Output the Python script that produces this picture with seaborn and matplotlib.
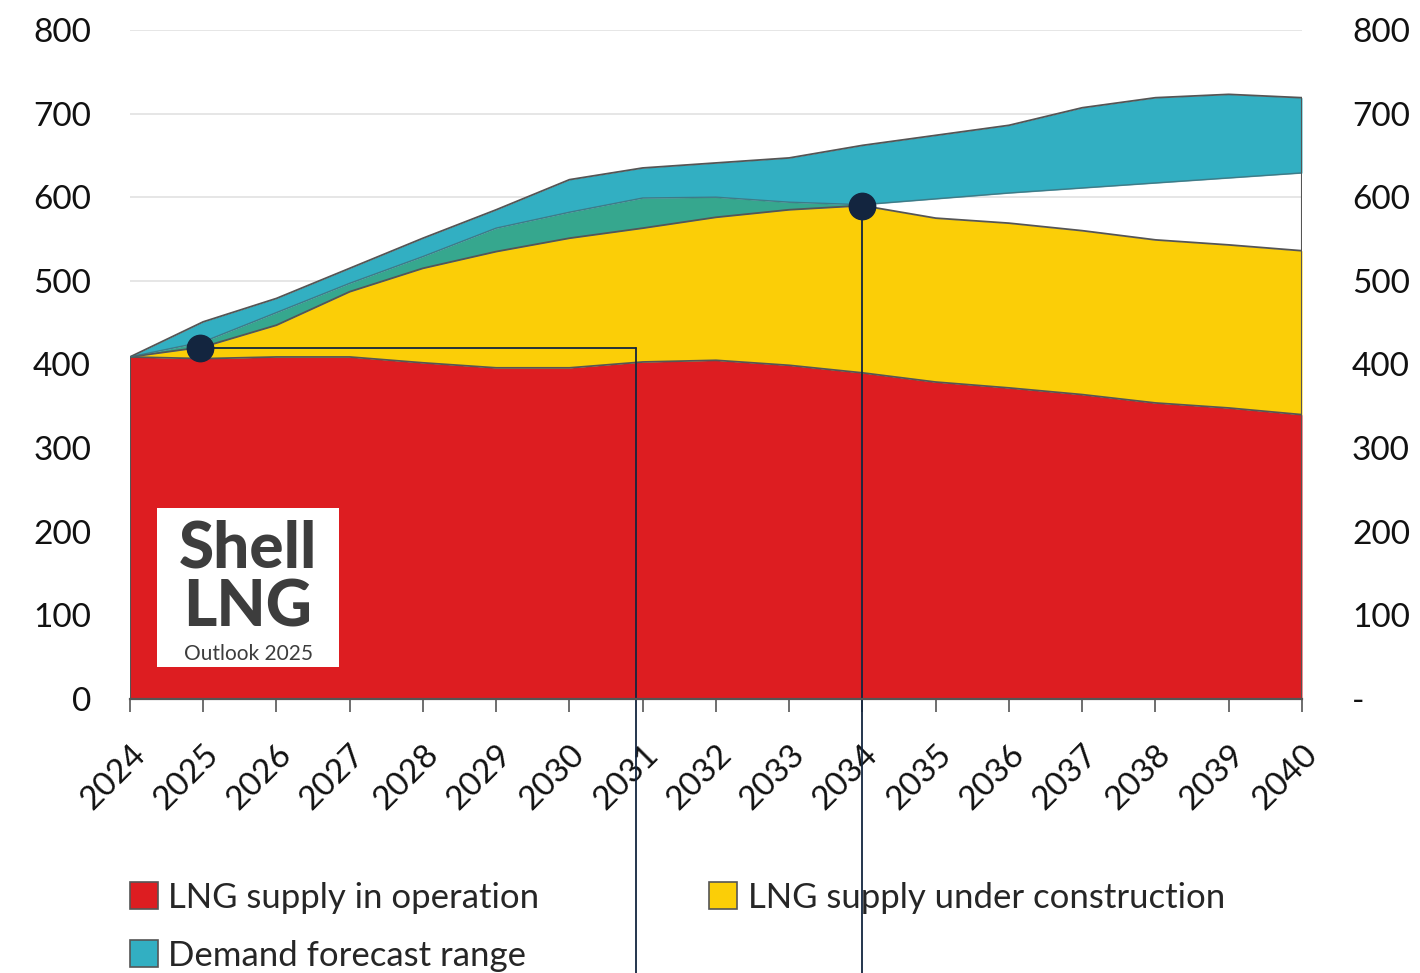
import numpy as np
import pandas as pd
import matplotlib
matplotlib.use("Agg")
import matplotlib.pyplot as plt
import matplotlib.transforms as mtransforms
from matplotlib.patches import Patch, Rectangle
import seaborn as sns

# values (mtpa)
years = [2024, 2025, 2026, 2027, 2028, 2029, 2030, 2031, 2032,
         2033, 2034, 2035, 2036, 2037, 2038, 2039, 2040]
supply_operation = [409, 407, 409, 409, 402, 396, 396, 403, 405,
                    399, 390, 379, 372, 364, 354, 348, 340]
supply_construction = [0, 14, 38, 78, 113, 139, 155, 160, 171,
                       186, 200, 196, 197, 196, 195, 195, 196]
demand_low = [409, 427, 462, 497, 529, 563, 582, 599, 600,
              594, 591, 598, 605, 611, 617, 623, 629]
demand_high = [409, 451, 479, 515, 551, 585, 621, 635, 641,
               647, 662, 674, 686, 707, 719, 723, 719]

y_ticks = [0, 100, 200, 300, 400, 500, 600, 700, 800]
right_labels = ["-", "100", "200", "300", "400", "500", "600", "700", "800"]

callout_years = [2024.95, 2034]
callout_values = [420, 590]
callout_elbow_year = 2030.91

legend_labels = ["LNG supply in operation", "LNG supply under construction",
                 "Demand forecast range"]

RED = "#DD1D21"
YELLOW = "#FBCE07"
TEAL = "#32AFC2"
GREEN = "#36A78E"
EDGE = "#555555"
NAVY = "#13253F"


def build_frame():
    df = pd.DataFrame({
        "year": years,
        "operation": supply_operation,
        "construction": supply_construction,
        "demand_low": demand_low,
        "demand_high": demand_high,
    })
    df["supply_top"] = df["operation"] + df["construction"]
    return df


def draw_areas(ax, df):
    x = df["year"]
    ax.fill_between(x, 0, df["operation"], color=RED, lw=0, zorder=2)
    ax.fill_between(x, df["operation"], df["supply_top"], color=YELLOW, lw=0, zorder=2)
    # overlap of demand band and supply, only up to the supply peak
    overlap = (df["demand_low"] >= df["supply_top"]) & (df["year"] <= callout_years[1])
    ax.fill_between(x, df["supply_top"], df["demand_low"], where=overlap,
                    interpolate=True, color=GREEN, lw=0, zorder=2)
    ax.fill_between(x, df["demand_low"], df["demand_high"], color=TEAL, lw=0, zorder=2)

    for col in ["operation", "supply_top", "demand_high"]:
        sns.lineplot(data=df, x="year", y=col, color=EDGE, lw=1.3, ax=ax, zorder=3)
    sns.lineplot(data=df, x="year", y="demand_low", color="#3f6f7a", lw=1.1,
                 alpha=0.8, ax=ax, zorder=3)

    # outline at both ends of the area
    ax.vlines([years[0]], 0, df["demand_high"].iloc[0], color=EDGE, lw=1.5, zorder=3)
    ax.vlines([years[-1]], 0, df["demand_high"].iloc[-1], color=EDGE, lw=1.5, zorder=3)


def draw_callouts(fig, ax):
    trans = mtransforms.blended_transform_factory(ax.transData, fig.transFigure)
    # from the first dot: right, then down off the chart
    ax.plot([callout_years[0], callout_elbow_year], [callout_values[0], callout_values[0]],
            color=NAVY, lw=1.3, zorder=4, clip_on=False)
    y_elbow = fig.transFigure.inverted().transform(
        ax.transData.transform((callout_elbow_year, callout_values[0])))[1]
    ax.plot([callout_elbow_year, callout_elbow_year], [y_elbow, 0],
            color=NAVY, lw=1.3, zorder=4, clip_on=False, transform=trans)
    # from the second dot straight down
    y_dot = fig.transFigure.inverted().transform(
        ax.transData.transform((callout_years[1], callout_values[1])))[1]
    ax.plot([callout_years[1], callout_years[1]], [y_dot, 0],
            color=NAVY, lw=1.3, zorder=4, clip_on=False, transform=trans)
    ax.plot(callout_years, callout_values, "o", color=NAVY, ms=19, zorder=5,
            clip_on=False)


def draw_logo(ax):
    box = Rectangle((0.023, 0.048), 0.155, 0.237, transform=ax.transAxes,
                    facecolor="white", edgecolor="none", zorder=6)
    ax.add_patch(box)
    ax.text(0.101, 0.224, "Shell", transform=ax.transAxes, ha="center", va="center",
            fontsize=46, fontweight="black", color="#3d3d3d", zorder=7)
    ax.text(0.100, 0.136, "LNG", transform=ax.transAxes, ha="center", va="center",
            fontsize=46, fontweight="black", color="#3d3d3d", zorder=7)
    ax.text(0.101, 0.068, "Outlook 2025", transform=ax.transAxes, ha="center",
            va="center", fontsize=15, color="#3d3d3d", zorder=7)


def main():
    sns.set_theme(style="white")
    plt.rcParams["font.family"] = ["Lato", "DejaVu Sans"]

    df = build_frame()

    fig = plt.figure(figsize=(14.2, 9.73), dpi=100)
    ax = fig.add_axes([0.0915, 0.2816, 0.8254, 0.6876])

    ax.set_xlim(years[0], years[-1])
    ax.set_ylim(0, 800)
    ax.set_yticks(y_ticks)
    ax.yaxis.grid(True, color="#e2e2e2", lw=1.2, zorder=0)
    ax.set_axisbelow(True)

    draw_areas(ax, df)

    ax.set_xlabel("")
    ax.set_ylabel("")
    ax.set_xticks(years)
    ax.set_xticklabels([str(y) for y in years], rotation=45, ha="right",
                       rotation_mode="anchor", fontsize=24, color="#111111")
    ax.tick_params(axis="x", direction="out", length=9, width=1.2, color=EDGE,
                   bottom=True, pad=20)
    ax.tick_params(axis="y", length=0, pad=28, labelsize=24, labelcolor="#111111")

    for side in ["top", "right", "left"]:
        ax.spines[side].set_visible(False)
    ax.spines["bottom"].set_color(EDGE)
    ax.spines["bottom"].set_linewidth(1.6)
    ax.spines["bottom"].set_zorder(4)

    ax2 = ax.twinx()
    ax2.set_ylim(0, 800)
    ax2.set_yticks(y_ticks)
    ax2.set_yticklabels(right_labels)
    ax2.tick_params(axis="y", length=0, pad=36, labelsize=24, labelcolor="#111111")
    for side in ["top", "right", "left", "bottom"]:
        ax2.spines[side].set_visible(False)
    ax2.grid(False)

    draw_callouts(fig, ax)
    draw_logo(ax)

    handles = [
        Patch(facecolor=RED, edgecolor=EDGE, lw=1.2, label=legend_labels[0]),
        Patch(facecolor=TEAL, edgecolor=EDGE, lw=1.2, label=legend_labels[2]),
        Patch(facecolor=YELLOW, edgecolor=EDGE, lw=1.2, label=legend_labels[1]),
    ]
    fig.legend(handles=handles, loc="upper left", bbox_to_anchor=(0.0915, 0.094),
               ncol=2, frameon=False, fontsize=25, handlelength=0.8, handleheight=0.8,
               handletextpad=0.3, columnspacing=4.9, labelspacing=0.75,
               borderaxespad=0, borderpad=0)

    fig.savefig("out.png", dpi=100)
    plt.close(fig)


if __name__ == "__main__":
    main()
